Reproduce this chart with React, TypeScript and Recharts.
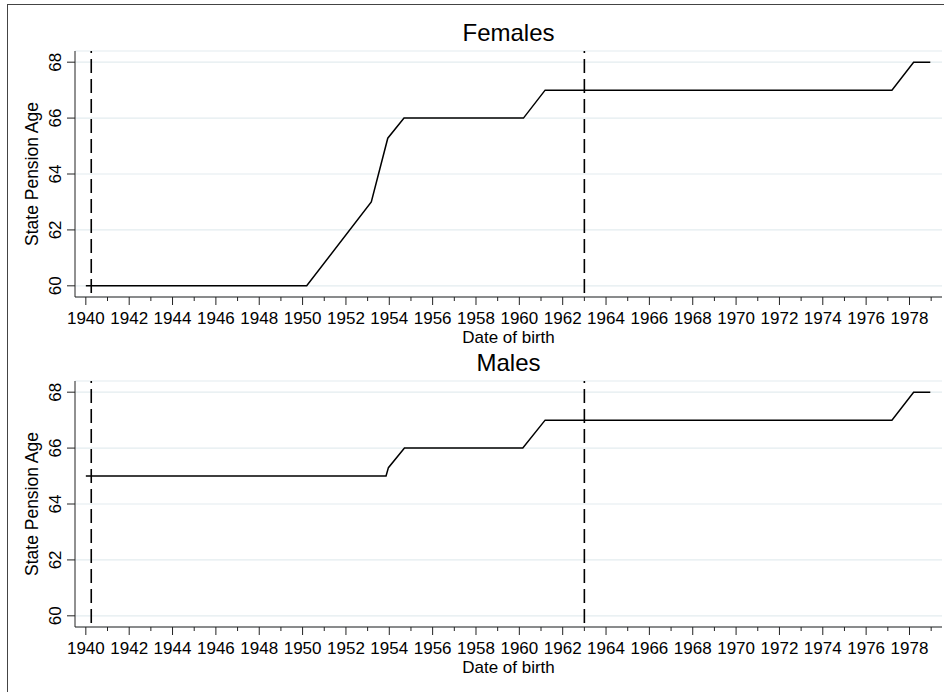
import React from 'react';
import {
  LineChart,
  Line,
  XAxis,
  YAxis,
  CartesianGrid,
  ReferenceLine
} from 'recharts';

// State pension age by date of birth
const femaleYears = [1940.0, 1950.19, 1953.17, 1953.93, 1954.68, 1960.19, 1961.19, 1977.19, 1978.19, 1978.96];
const femaleAges = [60, 60, 63, 65.28, 66, 66, 67, 67, 68, 68];

const maleYears = [1940.0, 1953.85, 1953.96, 1954.7, 1960.16, 1961.19, 1977.19, 1978.19, 1978.96];
const maleAges = [65, 65, 65.3, 66, 66, 67, 67, 68, 68];

const xTicks = [
  1940, 1941, 1942, 1943, 1944, 1945, 1946, 1947, 1948, 1949,
  1950, 1951, 1952, 1953, 1954, 1955, 1956, 1957, 1958, 1959,
  1960, 1961, 1962, 1963, 1964, 1965, 1966, 1967, 1968, 1969,
  1970, 1971, 1972, 1973, 1974, 1975, 1976, 1977, 1978, 1979
];
const yTicks = [60, 62, 64, 66, 68];
const cutoffYears = [1940.25, 1963.0];

const FONT = '"Liberation Sans", Arial, Helvetica, sans-serif';

const toPoints = (years: number[], ages: number[]) =>
  years.map((year, i) => ({ year, age: ages[i] }));

const XTick = (props: any) => {
  const { x, y, payload } = props;
  const major = payload.value % 2 === 0;
  return (
    <g>
      <line x1={x} x2={x} y1={y} y2={y + (major ? 8 : 4)} stroke="#222" strokeWidth={1} />
      {major && (
        <text x={x} y={y + 27} textAnchor="middle" fontSize={17} fontFamily={FONT} fill="#000">
          {payload.value}
        </text>
      )}
    </g>
  );
};

const YTick = (props: any) => {
  const { x, y, payload } = props;
  const lx = x - 14.3;
  return (
    <g>
      <line x1={x - 8} x2={x} y1={y} y2={y} stroke="#222" strokeWidth={1} />
      <text
        x={lx}
        y={y}
        transform={`rotate(-90 ${lx} ${y})`}
        textAnchor="middle"
        fontSize={17}
        fontFamily={FONT}
        fill="#000"
      >
        {payload.value}
      </text>
    </g>
  );
};

const Panel = ({ title, data }: { title: string; data: { year: number; age: number }[] }) => (
  <LineChart
    width={944}
    height={346}
    data={data}
    margin={{ top: 51, right: 2, bottom: 0, left: 0 }}
  >
    <CartesianGrid vertical={false} stroke="#e3ecef" strokeWidth={1.2} />
    <XAxis
      dataKey="year"
      type="number"
      domain={[1939.5, 1979.5]}
      ticks={xTicks}
      interval={0}
      tickSize={0}
      tickMargin={0}
      tickLine={false}
      axisLine={{ stroke: '#222' }}
      tick={<XTick />}
      height={49}
    />
    <YAxis
      type="number"
      domain={[59.6, 68.4]}
      ticks={yTicks}
      interval={0}
      tickSize={0}
      tickMargin={0}
      tickLine={false}
      axisLine={{ stroke: '#222' }}
      tick={<YTick />}
      width={75}
    />
    {cutoffYears.map((yr) => (
      <ReferenceLine key={yr} x={yr} stroke="#000" strokeWidth={1.6} strokeDasharray="14 6" strokeDashoffset={-4} />
    ))}
    <Line
      type="linear"
      dataKey="age"
      stroke="#000"
      strokeWidth={1.5}
      dot={false}
      isAnimationActive={false}
    />
    <text x={508.5} y={41} textAnchor="middle" fontSize={24} fontFamily={FONT} fill="#000">
      {title}
    </text>
    <text
      x={38}
      y={174}
      transform="rotate(-90 38 174)"
      textAnchor="middle"
      fontSize={17.5}
      fontFamily={FONT}
      fill="#000"
    >
      State Pension Age
    </text>
    <text x={508.5} y={342.5} textAnchor="middle" fontSize={17} fontFamily={FONT} fill="#000">
      Date of birth
    </text>
  </LineChart>
);

export default function App() {
  return (
    <div style={{ position: 'absolute', left: 0, top: 0, width: 944, height: 692, background: '#fff', overflow: 'hidden' }}>
      <div
        style={{
          position: 'absolute',
          left: 7,
          top: 4,
          width: 944,
          height: 692,
          borderLeft: '1px solid #444',
          borderTop: '1px solid #444'
        }}
      />
      <div style={{ position: 'absolute', left: 0, top: 0 }}>
        <Panel title="Females" data={toPoints(femaleYears, femaleAges)} />
      </div>
      <div style={{ position: 'absolute', left: 0, top: 330 }}>
        <Panel title="Males" data={toPoints(maleYears, maleAges)} />
      </div>
    </div>
  );
}
